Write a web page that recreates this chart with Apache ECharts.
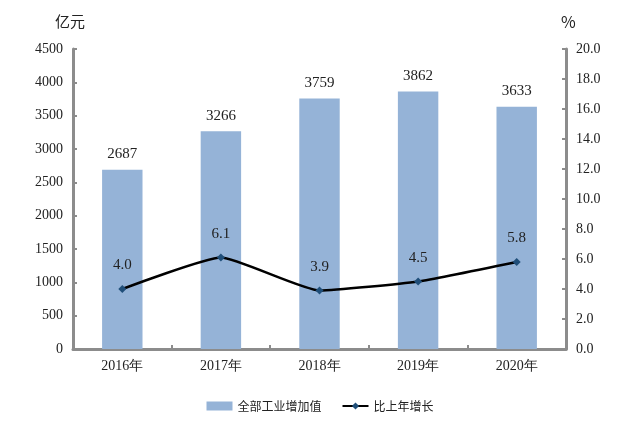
<!DOCTYPE html>
<html lang="zh">
<head>
<meta charset="UTF-8">
<title>全部工业增加值</title>
<script src="https://cdn.jsdelivr.net/npm/echarts@6/dist/echarts.min.js"></script>
<style>
  html, body { margin: 0; padding: 0; background: #fff; }
  #chart { width: 640px; height: 427px; }
</style>
</head>
<body>
<div id="chart"></div>
<script>
const years = ['2016年', '2017年', '2018年', '2019年', '2020年'];
const addedValue = [2687, 3266, 3759, 3862, 3633];
const growth = [4.0, 6.1, 3.9, 4.5, 5.8];

const serif = '"Liberation Serif", "DejaVu Serif", serif';
const cjk = '"Noto Sans CJK SC", sans-serif';
const axisGray = '#8c8c8c';

const chart = echarts.init(document.getElementById('chart'));
chart.setOption({
  animation: false,
  grid: { left: 73, right: 74, top: 49, bottom: 78 },
  graphic: [
    { type: 'text', left: 55, top: 14, style: { text: '亿元', font: '15px ' + cjk, fill: '#222' } },
    { type: 'text', left: 561, top: 14, style: { text: '%', font: '16px ' + cjk, fill: '#222' } }
  ],
  legend: {
    bottom: 10,
    left: 'center',
    itemGap: 20,
    itemWidth: 26,
    itemHeight: 9,
    textStyle: { fontFamily: cjk, fontSize: 12, color: '#222' },
    data: [
      { name: '全部工业增加值', icon: 'rect' },
      { name: '比上年增长' }
    ]
  },
  xAxis: {
    type: 'category',
    data: years,
    axisLine: { lineStyle: { color: axisGray, width: 3 } },
    axisTick: { show: true, inside: true, length: 4, lineStyle: { color: axisGray, width: 2 } },
    axisLabel: { fontFamily: serif, fontSize: 14, color: '#222', margin: 10 }
  },
  yAxis: [
    {
      type: 'value', min: 0, max: 4500, interval: 500,
      axisLine: { show: true, lineStyle: { color: axisGray, width: 3 } },
      axisTick: { show: true, inside: true, length: 4, lineStyle: { color: axisGray, width: 2 } },
      splitLine: { show: false },
      axisLabel: { fontFamily: serif, fontSize: 14, color: '#222', margin: 10, formatter: v => String(v) }
    },
    {
      type: 'value', min: 0, max: 20, interval: 2,
      axisLine: { show: true, lineStyle: { color: axisGray, width: 3 } },
      axisTick: { show: true, inside: true, length: 4, lineStyle: { color: axisGray, width: 2 } },
      splitLine: { show: false },
      axisLabel: { fontFamily: serif, fontSize: 14, color: '#222', margin: 10, formatter: v => v.toFixed(1) }
    }
  ],
  series: [
    {
      name: '全部工业增加值',
      type: 'bar',
      data: addedValue,
      barWidth: '41%',
      itemStyle: { color: '#95b3d7' },
      label: { show: true, position: 'top', distance: 8, fontFamily: serif, fontSize: 15, color: '#222' }
    },
    {
      name: '比上年增长',
      type: 'line',
      yAxisIndex: 1,
      data: growth,
      smooth: 0.15,
      symbol: 'diamond',
      symbolSize: 8,
      lineStyle: { color: '#000', width: 2.5 },
      itemStyle: { color: '#1f4e79' },
      label: { show: true, position: 'top', distance: 12, fontFamily: serif, fontSize: 15, color: '#222', formatter: p => p.value.toFixed(1) }
    }
  ]
});
</script>
</body>
</html>
